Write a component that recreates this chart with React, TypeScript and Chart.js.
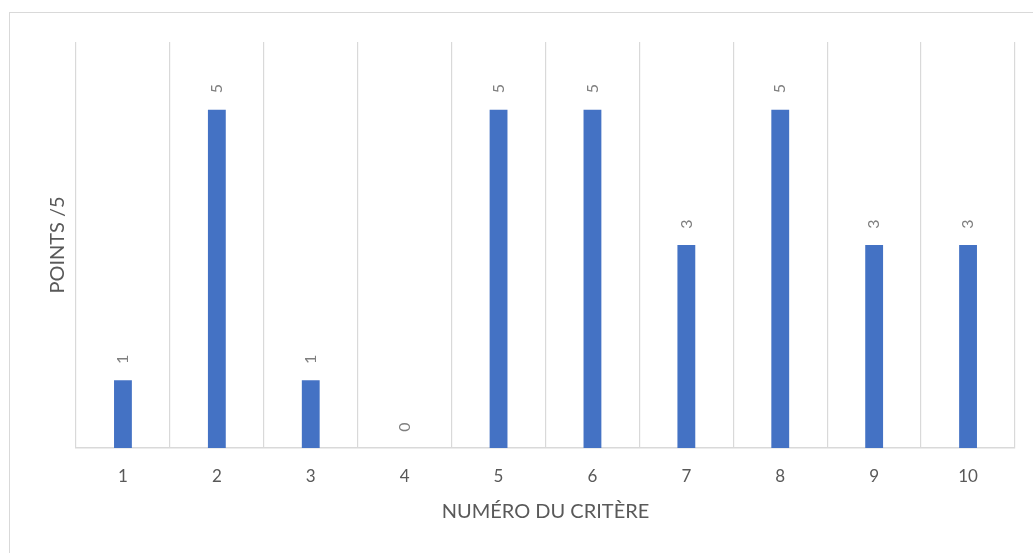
import React, { useEffect, useRef } from "react";
import { Chart, registerables } from "chart.js";

Chart.register(...registerables);

// Criterion numbers and their scores out of 5
const criteres: string[] = ["1", "2", "3", "4", "5", "6", "7", "8", "9", "10"];
const points: number[] = [1, 5, 1, 0, 5, 5, 3, 5, 3, 3];

const FONT = "Lato, 'Open Sans', sans-serif";
const GRID = "#d9d9d9";
const TEXT = "#595959";

// Writes each bar's value above it, turned a quarter turn counter-clockwise
const valueLabels = {
  id: "valueLabels",
  afterDatasetsDraw(chart: any) {
    const { ctx } = chart;
    const meta = chart.getDatasetMeta(0);
    const data = chart.data.datasets[0].data as number[];
    ctx.save();
    ctx.fillStyle = "#7f7f7f";
    ctx.font = `16px ${FONT}`;
    ctx.textAlign = "center";
    ctx.textBaseline = "middle";
    meta.data.forEach((bar: any, i: number) => {
      ctx.save();
      ctx.translate(bar.x, bar.y - 21);
      ctx.rotate(-Math.PI / 2);
      ctx.fillText(String(data[i]), 0, 0);
      ctx.restore();
    });
    ctx.restore();
  },
};

export default function App() {
  const canvasRef = useRef<HTMLCanvasElement>(null);

  useEffect(() => {
    document.body.style.margin = "0";
    const canvas = canvasRef.current;
    if (!canvas) return;
    const chart = new Chart(canvas, {
      type: "bar",
      data: {
        labels: criteres,
        datasets: [
          {
            data: points,
            backgroundColor: "#4472c4",
            categoryPercentage: 1,
            barPercentage: 0.19,
          },
        ],
      },
      options: {
        animation: false,
        responsive: false,
        maintainAspectRatio: false,
        layout: { padding: { top: 42, right: 18, left: 0, bottom: 0 } },
        plugins: {
          legend: { display: false },
          tooltip: { enabled: false },
        },
        scales: {
          x: {
            grid: { color: GRID, lineWidth: 1.2, drawTicks: false, offset: true },
            border: { color: GRID, width: 1.5 },
            ticks: {
              color: TEXT,
              font: { family: FONT, size: 17 },
              padding: 18,
              maxRotation: 0,
            },
            title: {
              display: true,
              text: "NUMÉRO DU CRITÈRE",
              color: TEXT,
              font: { family: FONT, size: 20 },
              padding: { top: 0, bottom: 29 },
            },
            afterFit(scale: any) {
              scale.height = 105;
            },
          },
          y: {
            min: 0,
            max: 6,
            grid: { display: false },
            border: { display: false },
            ticks: { display: false },
            title: {
              display: true,
              text: "POINTS /5",
              color: TEXT,
              font: { family: FONT, size: 20 },
              padding: { top: 46, bottom: 0 },
            },
            afterFit(scale: any) {
              scale.width = 76;
            },
          },
        },
      },
      plugins: [valueLabels],
    });
    return () => chart.destroy();
  }, []);

  return (
    <div style={{ position: "relative", width: 1033, height: 553, overflow: "hidden" }}>
      <canvas
        ref={canvasRef}
        width={1033}
        height={553}
        style={{ position: "absolute", left: 0, top: 0, width: 1033, height: 553 }}
      />
      <div
        style={{
          position: "absolute",
          left: 9,
          top: 12,
          width: 1100,
          height: 600,
          borderLeft: `1px solid ${GRID}`,
          borderTop: `1px solid ${GRID}`,
          pointerEvents: "none",
        }}
      />
    </div>
  );
}
